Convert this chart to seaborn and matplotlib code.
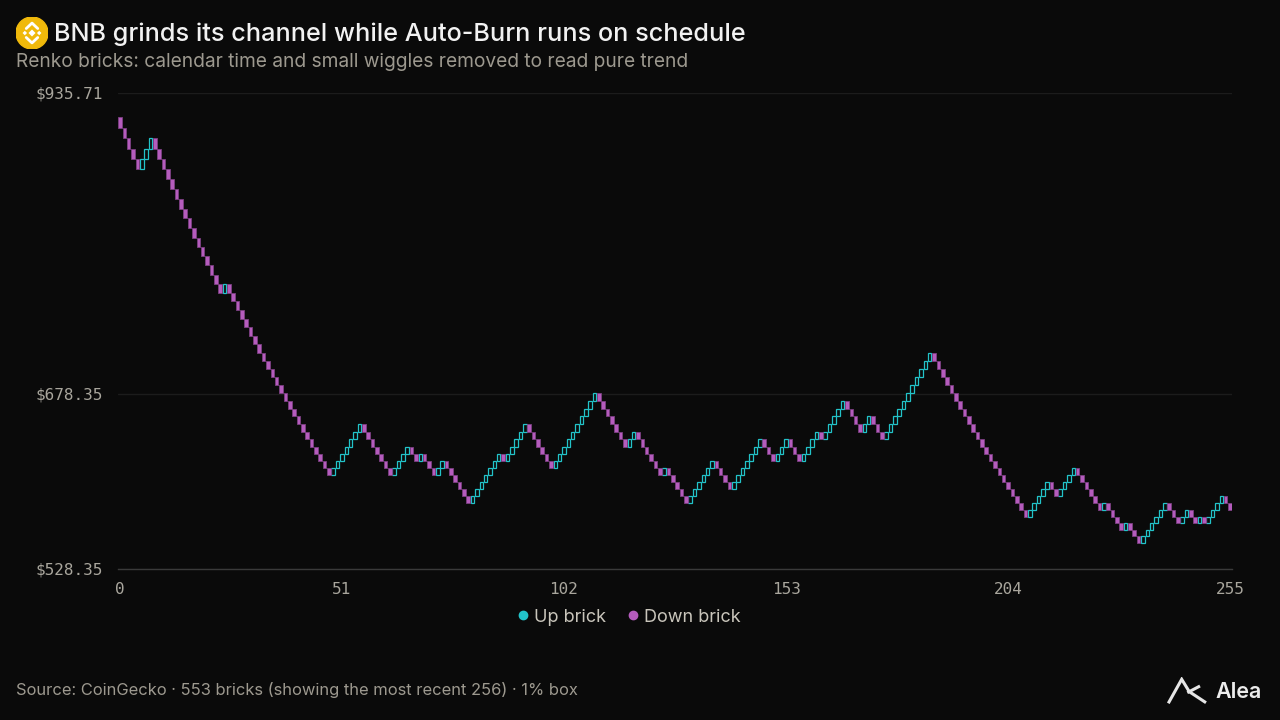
import numpy as np
import pandas as pd
import matplotlib
matplotlib.use("Agg")
import matplotlib.pyplot as plt
from matplotlib.lines import Line2D
from matplotlib.patches import Circle, Polygon
import seaborn as sns

# brick directions (+ = up bricks, - = down bricks)
brick_runs = [-5, 3, -16, 1, -24, 7, -7, 4, -2, 1, -3, 2, -6, 7, -1, 5, -6, 10,
              -7, 2, -6, 1, -5, 6, -4, 7, -3, 3, -3, 4, -1, 5, -4, 2, -3, 11,
              -22, 5, -2, 4, -6, 1, -4, 1, -3, 6, -3, 2, -2, 1, -1, 4, -2]
start_price = 915.0   # open of the first brick shown
box_pct = 0.01        # 1% box
y_ticks = [528.35, 678.35, 935.71]
x_ticks = [0, 51, 102, 153, 204, 255]
legend_labels = ['Up brick', 'Down brick']

BG = '#0a0a0a'
UP = '#22c3c9'
DOWN = '#b55cbd'
GREY = '#9d998f'
TICK = '#a9a69d'

# build the bricks
dirs = np.concatenate([np.full(abs(r), np.sign(r)) for r in brick_runs])
close_lvl = np.cumsum(dirs)
open_lvl = close_lvl - dirs
df = pd.DataFrame({
    'idx': np.arange(len(dirs)),
    'dir': dirs,
    'open': start_price * (1 + box_pct) ** open_lvl,
    'close': start_price * (1 + box_pct) ** close_lvl,
})
df['bottom'] = df[['open', 'close']].min(axis=1)
df['height'] = (df['close'] - df['open']).abs()

sns.set_theme(style="dark", rc={
    'figure.facecolor': BG,
    'axes.facecolor': BG,
    'savefig.facecolor': BG,
    'text.color': 'white',
    'axes.labelcolor': GREY,
    'xtick.color': TICK,
    'ytick.color': TICK,
})
plt.rcParams['font.family'] = ['Inter', 'DejaVu Sans']

fig = plt.figure(figsize=(12.8, 7.2), dpi=100)
ax = fig.add_axes([117.8 / 1280, 1 - 569 / 720, 1114.4 / 1280, 476 / 720])

up = df[df['dir'] > 0]
down = df[df['dir'] < 0]
ax.bar(up['idx'], up['height'], bottom=up['bottom'], width=0.82,
       facecolor=BG, edgecolor=UP, linewidth=0.9, zorder=3)
ax.bar(down['idx'], down['height'], bottom=down['bottom'], width=0.82,
       facecolor=DOWN, edgecolor='#7c3f83', linewidth=0.6, zorder=3)

ax.set_xlim(-0.5, 255.5)
ax.set_ylim(y_ticks[0], y_ticks[-1])
ax.set_yticks(y_ticks)
ax.set_yticklabels([f'${v:.2f}' for v in y_ticks])
ax.set_xticks(x_ticks)
ax.set_xticklabels([str(v) for v in x_ticks])
for lab in ax.get_xticklabels() + ax.get_yticklabels():
    lab.set_family('DejaVu Sans Mono')
    lab.set_fontsize(11.5)
    lab.set_color(TICK)
ax.tick_params(axis='y', length=0, pad=11)
ax.tick_params(axis='x', length=0, pad=9)
ax.grid(axis='y', color='#1c1c1c', linewidth=1, zorder=0)
ax.grid(axis='x', visible=False)
sns.despine(ax=ax, left=True, right=True, top=True, bottom=False)
ax.spines['bottom'].set_color('#3a3a3a')
ax.spines['bottom'].set_linewidth(1)
ax.set_xlabel('')
ax.set_ylabel('')

# legend
handles = [Line2D([0], [0], marker='o', linestyle='none', markersize=6,
                  markerfacecolor=UP, markeredgecolor=UP),
           Line2D([0], [0], marker='o', linestyle='none', markersize=6,
                  markerfacecolor=DOWN, markeredgecolor=DOWN)]
fig.legend(handles, legend_labels, loc='center', bbox_to_anchor=(627 / 1280, 1 - 617 / 720),
           ncol=2, frameon=False, fontsize=13, labelcolor='#c9c5bb',
           handletextpad=0.1, columnspacing=1.0, handlelength=1.0)

# titles
fig.text(54 / 1280, 1 - 34 / 720, 'BNB grinds its channel while Auto-Burn runs on schedule',
         fontsize=18.2, color='#f2f2f2', va='center', ha='left', fontweight='medium')
fig.text(16 / 1280, 1 - 62 / 720,
         'Renko bricks: calendar time and small wiggles removed to read pure trend',
         fontsize=13.8, color=GREY, va='center', ha='left')
fig.text(16 / 1280, 1 - 690 / 720,
         'Source: CoinGecko · 553 bricks (showing the most recent 256) · 1% box',
         fontsize=11.9, color=GREY, va='center', ha='left')

# BNB coin icon
icon = fig.add_axes([16 / 1280, 1 - 49 / 720, 32 / 1280, 32 / 720])
icon.set_xlim(-1, 1)
icon.set_ylim(-1, 1)
icon.set_aspect('equal')
icon.axis('off')
icon.add_patch(Circle((0, 0), 1, color='#f0b90b'))
def diamond(cx, cy, r):
    return Polygon([(cx, cy + r), (cx + r, cy), (cx, cy - r), (cx - r, cy)],
                   closed=True, facecolor='white', edgecolor='none')
icon.add_patch(diamond(0, 0, 0.22))
for cx, cy in [(-0.45, 0), (0.45, 0)]:
    icon.add_patch(diamond(cx, cy, 0.14))
# top and bottom chevrons of the BNB mark
icon.plot([-0.36, 0, 0.36], [0.28, 0.62, 0.28], color='white', linewidth=2.0)
icon.plot([-0.36, 0, 0.36], [-0.28, -0.62, -0.28], color='white', linewidth=2.0)

# Alea mark
mark = fig.add_axes([1166 / 1280, 1 - 705 / 720, 42 / 1280, 28 / 720])
mark.set_xlim(0, 42)
mark.set_ylim(0, 28)
mark.axis('off')
mark.plot([2.3, 15.7, 23.3, 40], [1.7, 25.7, 13.3, 2.3], color='#e6e6e6',
          linewidth=2.2, solid_capstyle='butt', solid_joinstyle='miter')
mark.plot([21.3, 34], [12.3, 19], color='#e6e6e6', linewidth=2.2, solid_capstyle='butt')
fig.text(1215 / 1280, 1 - 692 / 720, 'Alea', fontsize=15.5, color='#ececec',
         va='center', ha='left', fontweight='semibold')

fig.savefig('out.png', dpi=100, facecolor=BG)
